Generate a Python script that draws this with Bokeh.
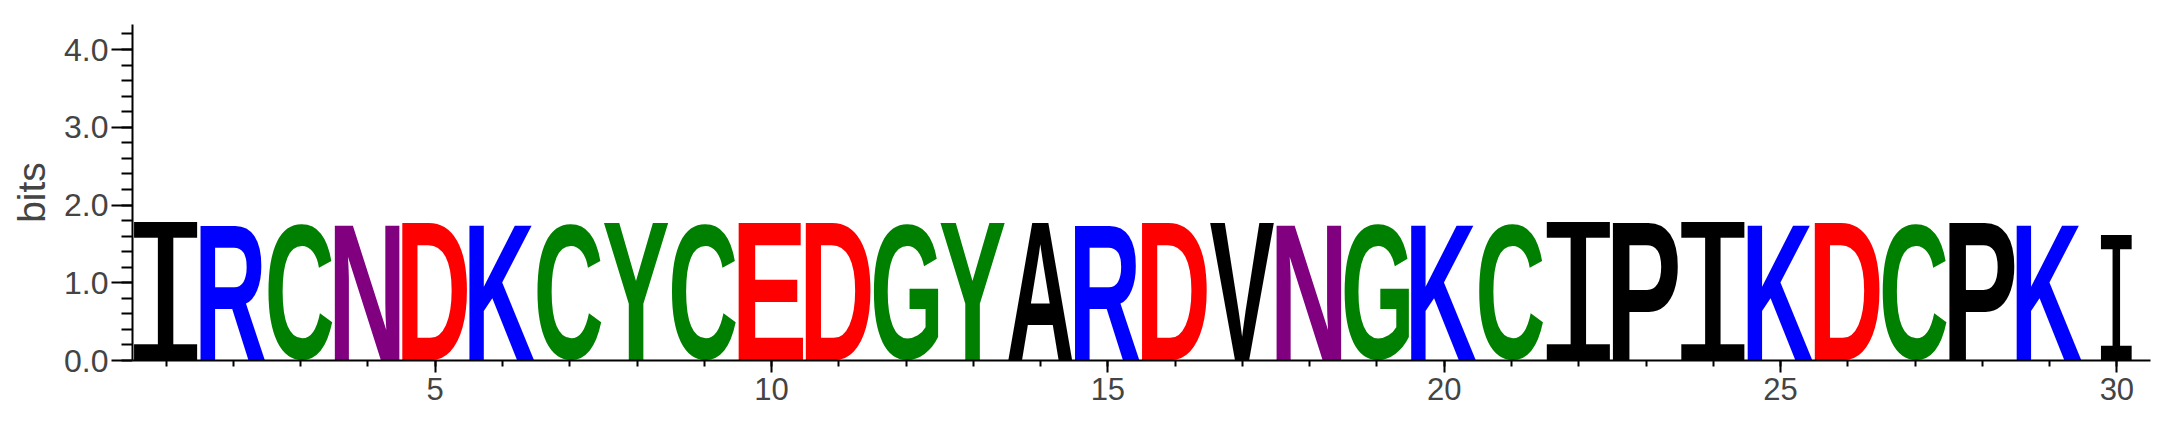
import json
import numpy as np
from bokeh.plotting import figure
from bokeh.core.properties import value
from bokeh.models import (ColumnDataSource, SingleIntervalTicker, FixedTicker, Label,
                          Range1d, PrintfTickFormatter, CDSView, BooleanFilter)
from bokeh.embed import file_html
from bokeh.resources import INLINE

# ---------------- data ----------------
positions = list(range(1, 31))
letters = list("IRCNDKCYCEDGYARDVNGKCIPIKDCPKI")
heights = [1.76, 1.76, 1.76, 1.76, 1.76, 1.76, 1.76, 1.76, 1.76, 1.76,
           1.76, 1.76, 1.76, 1.76, 1.76, 1.76, 1.76, 1.76, 1.76, 1.76,
           1.76, 1.76, 1.76, 1.76, 1.76, 1.76, 1.76, 1.76, 1.76, 1.59]
widths = [0.966, 0.966, 0.966, 0.966, 0.966, 0.966, 0.966, 0.966, 0.966, 0.966,
          0.966, 0.966, 0.966, 0.966, 0.966, 0.966, 0.966, 0.966, 0.966, 0.966,
          0.966, 0.966, 0.966, 0.966, 0.966, 0.966, 0.966, 0.966, 0.966, 0.47]
x_ticks = [5, 10, 15, 20, 25, 30]
y_max = float(np.log2(20))

# WebLogo "chemistry" colour scheme
scheme = {"G": "#008000", "S": "#008000", "T": "#008000", "Y": "#008000", "C": "#008000",
          "N": "#800080", "Q": "#800080",
          "K": "#0000ff", "R": "#0000ff", "H": "#0000ff",
          "D": "#ff0000", "E": "#ff0000",
          "A": "#000000", "V": "#000000", "L": "#000000", "I": "#000000",
          "P": "#000000", "W": "#000000", "F": "#000000", "M": "#000000"}

colors = [scheme[l] for l in letters]
is_I = [l == "I" for l in letters]
not_I = [l != "I" for l in letters]

FRAME_W, FRAME_H = 2018, 336
BORDER_L, BORDER_T = 132, 24
X_START, X_END = 0.5, 30.5

source = ColumnDataSource(dict(x=positions, y=[0] * len(positions), text=letters,
                               height=heights, width=widths, color=colors))

p = figure(frame_width=FRAME_W, frame_height=FRAME_H,
           x_range=Range1d(X_START, X_END), y_range=Range1d(0, y_max),
           output_backend="svg", toolbar_location=None,
           min_border_left=BORDER_L, min_border_right=18,
           min_border_top=BORDER_T, min_border_bottom=82)
p.xgrid.visible = False
p.ygrid.visible = False
p.outline_line_color = None
p.background_fill_color = "white"
p.border_fill_color = "white"

# note: a font size like "100px" confuses the SVG font parser, so use 120px
p.text(x="x", y="y", text="text", source=source, view=CDSView(filter=BooleanFilter(not_I)),
       text_color="color", text_font=value("Liberation Sans"), text_font_style="bold",
       text_font_size="120px", text_align="center", text_baseline="alphabetic")
p.text(x="x", y="y", text="text", source=source, view=CDSView(filter=BooleanFilter(is_I)),
       text_color="color", text_font=value("DejaVu Sans Mono"), text_font_style="normal",
       text_font_size="120px", text_align="center", text_baseline="alphabetic")

# y axis
yax = p.yaxis[0]
yax.ticker = SingleIntervalTicker(interval=1, num_minor_ticks=5)
yax.formatter = PrintfTickFormatter(format="%.1f")
yax.axis_label = "bits"
yax.axis_label_text_font = "Liberation Sans"
yax.axis_label_text_font_size = "39px"
yax.axis_label_text_font_style = "normal"
yax.axis_label_standoff = 8
yax.major_label_text_font = "Liberation Sans"
yax.major_label_text_font_size = "32px"
yax.major_label_standoff = 3
yax.major_tick_out = 21
yax.major_tick_in = 0
yax.minor_tick_out = 11
yax.minor_tick_in = 0
yax.axis_line_width = 2
yax.major_tick_line_width = 2
yax.minor_tick_line_width = 2

# x axis
xax = p.xaxis[0]
xax.ticker = FixedTicker(ticks=x_ticks, minor_ticks=positions)
xax.major_label_text_font = "Liberation Sans"
xax.major_label_text_font_size = "31px"
xax.major_label_standoff = 5
xax.major_tick_out = 12
xax.major_tick_in = 0
xax.minor_tick_out = 6
xax.minor_tick_in = 0
xax.axis_line_width = 2
xax.major_tick_line_width = 2
xax.minor_tick_line_width = 2

p.add_layout(Label(x=X_END, y=0, x_units="data", y_units="data", y_offset=-66,
                   text="WebLogo 3.7.5", text_align="right", text_baseline="alphabetic",
                   text_font="Liberation Sans", text_font_size="22px", text_color="black"))

# Stretch each logo letter so that its ink fills its stack (width x height in data units).
# Each letter element is matched to its data position by its horizontal place on screen.
script = """
<script>
(function () {
  const H = %s, W = %s, X = %s;
  const pxx = %f, pxy = %f, left0 = %f, bottom0 = %f, x0 = %f;
  const cv = document.createElement('canvas');
  const ctx = cv.getContext('2d');
  function collect(root, out) {
    const all = root.querySelectorAll('*');
    for (const el of all) {
      if (el.tagName && el.tagName.toLowerCase() === 'text') out.push(el);
      if (el.shadowRoot) collect(el.shadowRoot, out);
    }
  }
  function nearest(dx) {
    let best = 0, bd = Infinity;
    for (let i = 0; i < X.length; i++) {
      const d = Math.abs(X[i] - dx);
      if (d < bd) { bd = d; best = i; }
    }
    return best;
  }
  function stretch() {
    try {
      const texts = [];
      collect(document, texts);
      for (const t of texts) {
        if (t.getAttribute('data-logo') === '1') continue;
        const cs = getComputedStyle(t);
        if (!(parseFloat(cs.fontSize) >= 90)) continue;
        const svg = t.ownerSVGElement;
        if (!svg) continue;
        const r = t.getBoundingClientRect();
        const sr = svg.getBoundingClientRect();
        if (!r.width) continue;
        const cxl = r.left + r.width / 2 - sr.left;
        const i = nearest((cxl - left0) / pxx + x0);
        ctx.font = cs.fontStyle + ' ' + cs.fontWeight + ' ' + cs.fontSize + ' ' + cs.fontFamily;
        ctx.textAlign = 'left';
        ctx.textBaseline = 'alphabetic';
        const m = ctx.measureText(t.textContent);
        const inkL = -m.actualBoundingBoxLeft, inkR = m.actualBoundingBoxRight;
        const inkT = -m.actualBoundingBoxAscent, inkB = m.actualBoundingBoxDescent;
        if (!(inkR - inkL > 0) || !(inkB - inkT > 0)) continue;
        const tw = W[i] * pxx, th = H[i] * pxy;
        const cx = left0 + (X[i] - x0) * pxx;
        const L = cx - tw / 2, T = bottom0 - th;
        const sx = tw / (inkR - inkL), sy = th / (inkB - inkT);
        let pre = '';
        const par = t.parentNode;
        if (par && par !== svg && par.getCTM) {
          const P = par.getCTM();
          if (P) {
            const Q = P.inverse();
            pre = 'matrix(' + [Q.a, Q.b, Q.c, Q.d, Q.e, Q.f].join(' ') + ') ';
          }
        }
        t.setAttribute('x', '0');
        t.setAttribute('y', '0');
        t.removeAttribute('dx');
        t.removeAttribute('dy');
        t.setAttribute('text-anchor', 'start');
        t.setAttribute('dominant-baseline', 'alphabetic');
        t.style.textAnchor = 'start';
        t.style.dominantBaseline = 'alphabetic';
        t.setAttribute('transform', pre + 'translate(' + L + ' ' + T + ') scale(' + sx + ' ' + sy +
                       ') translate(' + (-inkL) + ' ' + (-inkT) + ')');
        t.setAttribute('data-logo', '1');
      }
    } catch (e) { console.log(e); }
  }
  function loop() { stretch(); requestAnimationFrame(loop); }
  requestAnimationFrame(loop);
  setInterval(stretch, 20);
  window.addEventListener('load', stretch);
  document.addEventListener('DOMContentLoaded', stretch);
})();
</script>
""" % (json.dumps(heights), json.dumps(widths), json.dumps(positions),
       FRAME_W / (X_END - X_START), FRAME_H / y_max, BORDER_L, BORDER_T + FRAME_H, X_START)

html = file_html(p, INLINE)
head, sep, tail = html.rpartition("</body>")
if sep:
    html = head + script + sep + tail
else:
    html = html + script
open("out.html", "w").write(html)
